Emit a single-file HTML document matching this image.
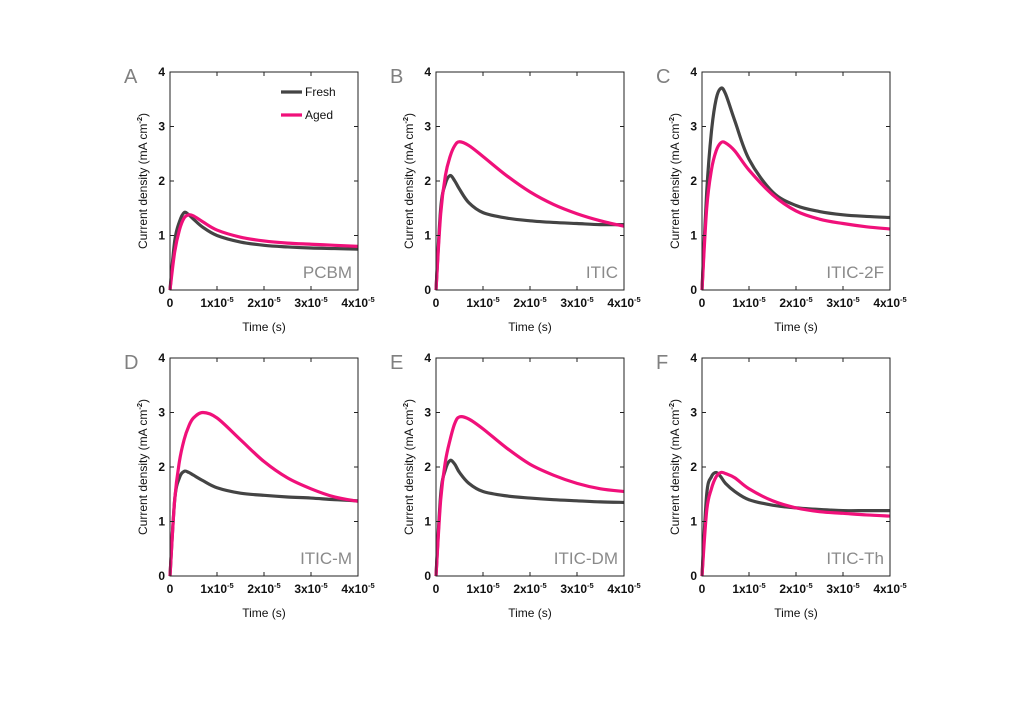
<!DOCTYPE html>
<html><head><meta charset="utf-8"><style>
body{margin:0;background:#fff;}
svg{display:block;font-family:"Liberation Sans",sans-serif;}
.tk{font-size:12px;font-weight:bold;fill:#111;}
.sup{font-size:7.5px;font-weight:bold;}
.ttl{font-size:12px;fill:#111;}
.let{font-size:20px;fill:#808080;}
.smp{font-size:17px;fill:#8a8a8a;}
</style></head><body>
<svg id="fig" width="1024" height="709" viewBox="0 0 1024 709"></svg>
<script>
const times=[0,0.1,0.2,0.3,0.4,0.5,0.7,1,1.5,2,2.5,3,3.5,4];
const xTicks=[0,1,2,3,4];
const yTicks=[0,1,2,3,4];
const panelLetters=["A","B","C","D","E","F"];
const samples=["PCBM","ITIC","ITIC-2F","ITIC-M","ITIC-DM","ITIC-Th"];
const freshA=[0,0.9,1.25,1.42,1.38,1.3,1.15,1.0,0.88,0.82,0.79,0.77,0.76,0.75];
const agedA=[0,0.7,1.1,1.32,1.38,1.36,1.25,1.1,0.97,0.9,0.86,0.84,0.82,0.8];
const freshB=[0,1.5,1.95,2.1,2.0,1.85,1.6,1.42,1.32,1.27,1.24,1.22,1.2,1.2];
const agedB=[0,1.4,2.1,2.45,2.65,2.72,2.65,2.45,2.1,1.8,1.57,1.4,1.27,1.17];
const freshC=[0,1.8,2.9,3.5,3.7,3.6,3.1,2.4,1.8,1.55,1.44,1.38,1.35,1.33];
const agedC=[0,1.5,2.2,2.55,2.7,2.7,2.55,2.2,1.75,1.45,1.3,1.22,1.16,1.12];
const freshD=[0,1.4,1.8,1.92,1.9,1.85,1.75,1.62,1.52,1.48,1.45,1.43,1.4,1.38];
const agedD=[0,1.4,2.1,2.5,2.75,2.9,3.0,2.9,2.5,2.1,1.8,1.6,1.45,1.37];
const freshE=[0,1.5,1.95,2.12,2.05,1.9,1.7,1.55,1.47,1.43,1.4,1.38,1.36,1.35];
const agedE=[0,1.4,2.1,2.5,2.8,2.92,2.88,2.7,2.35,2.05,1.85,1.7,1.6,1.55];
const freshF=[0,1.5,1.82,1.9,1.82,1.7,1.55,1.4,1.3,1.25,1.22,1.2,1.2,1.2];
const agedF=[0,1.2,1.6,1.82,1.9,1.88,1.8,1.6,1.38,1.25,1.18,1.15,1.12,1.1];
const freshAll=[freshA,freshB,freshC,freshD,freshE,freshF];
const agedAll=[agedA,agedB,agedC,agedD,agedE,agedF];

const NS="http://www.w3.org/2000/svg";
const svg=document.getElementById('fig');
function mk(tag,attrs,parent,text){const e=document.createElementNS(NS,tag);for(const k in attrs)e.setAttribute(k,attrs[k]);if(text!==undefined)e.textContent=text;(parent||svg).appendChild(e);return e;}
const lefts=[170,436,702],tops=[72,358],W=188,H=218;
function smooth(pts){let d="M"+pts[0][0]+","+pts[0][1];for(let i=0;i<pts.length-1;i++){const p0=pts[Math.max(0,i-1)],p1=pts[i],p2=pts[i+1],p3=pts[Math.min(pts.length-1,i+2)];const c1=[p1[0]+(p2[0]-p0[0])/6,p1[1]+(p2[1]-p0[1])/6],c2=[p2[0]-(p3[0]-p1[0])/6,p2[1]-(p3[1]-p1[1])/6];d+=" C"+c1.join(",")+" "+c2.join(",")+" "+p2.join(",");}return d;}
for(let p=0;p<6;p++){
  const L=lefts[p%3],T=tops[Math.floor(p/3)];
  const xs=v=>L+v/4*W, ys=v=>T+H-v/4*H;
  const g=mk('g',{},svg);
  
  
  const fl=mk('path',{d:smooth(times.map((t,i)=>[xs(t),ys(freshAll[p][i])])),fill:'none',stroke:'#444',"stroke-width":3.2},g);
  
  const al=mk('path',{d:smooth(times.map((t,i)=>[xs(t),ys(agedAll[p][i])])),fill:'none',stroke:'#f0107a',"stroke-width":3.2},g);
  
  const fr=mk('rect',{x:L,y:T,width:W,height:H,fill:'none',stroke:'#222',"stroke-width":1},g);
  
  yTicks.forEach(v=>{const y=ys(v);mk('line',{x1:L,x2:L+4,y1:y,y2:y,stroke:'#222'},g);mk('line',{x1:L+W-4,x2:L+W,y1:y,y2:y,stroke:'#222'},g);
    const t=mk('text',{x:L-5,y:y+4,"text-anchor":"end",class:'tk'},g,v);});
  xTicks.forEach(v=>{const x=xs(v);mk('line',{x1:x,x2:x,y1:T+H,y2:T+H-4,stroke:'#222'},g);mk('line',{x1:x,x2:x,y1:T,y2:T+4,stroke:'#222'},g);
    const t=mk('text',{x:x,y:T+H+17,"text-anchor":"middle",class:'tk'},g);
    if(v===0)t.textContent='0';else{t.textContent=v+'x10';mk('tspan',{class:'sup',dy:-5},t,'-5');}
    });
  const xt=mk('text',{x:L+W/2,y:T+H+41,"text-anchor":"middle",class:'ttl'},g,'Time (s)');
  
  const yt=mk('text',{transform:`translate(${L-23},${T+H/2}) rotate(-90)`,"text-anchor":"middle",class:'ttl'},g,'Current density (mA cm');
  mk('tspan',{class:'sup',dy:-5},yt,'-2');mk('tspan',{dy:5},yt,')');
  
  const lt=mk('text',{x:L-46,y:T+11,class:'let'},g,panelLetters[p]);
  
  const st=mk('text',{x:L+W-6,y:T+H-12,"text-anchor":"end",class:'smp'},g,samples[p]);
  
  if(p===0){
    const lg=mk('g',{},g);
    mk('line',{x1:281,x2:302,y1:92,y2:92,stroke:'#444',"stroke-width":3.2},lg);
    mk('text',{x:305,y:96,class:'ttl'},lg,'Fresh');
    mk('line',{x1:281,x2:302,y1:115,y2:115,stroke:'#f0107a',"stroke-width":3.2},lg);
    mk('text',{x:305,y:119,class:'ttl'},lg,'Aged');
  }
}
</script>
</body></html>
